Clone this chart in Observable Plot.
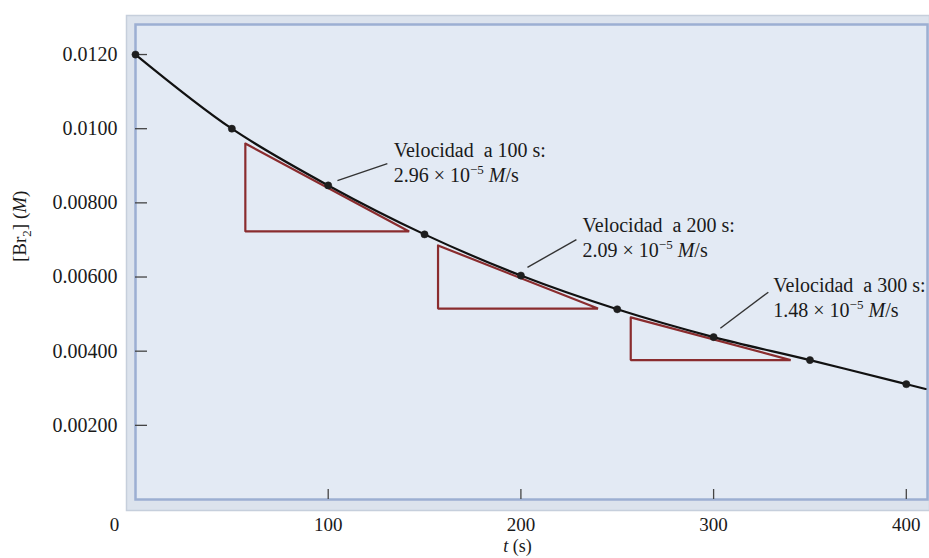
<!DOCTYPE html>
<html>
<head>
<meta charset="utf-8">
<script src="https://cdn.jsdelivr.net/npm/d3@7"></script>
<script src="https://cdn.jsdelivr.net/npm/@observablehq/plot@0.6"></script>
<style>
  html, body { margin: 0; padding: 0; background: #ffffff; }
  #chart { width: 929px; height: 558px; }
</style>
</head>
<body>
<div id="chart"></div>
<script>
// ---- data ----
const times = [0, 50, 100, 150, 200, 250, 300, 350, 400];
const conc = [0.0120, 0.0100, 0.00847, 0.00715, 0.00604, 0.00513, 0.00438, 0.00376, 0.00311];
const curveTailTime = [410];
const curveTailConc = [0.00298];

const xTickValues = [100, 200, 300, 400];
const xTickLabels = ["100", "200", "300", "400"];
const xZeroLabel = ["0"];
const yTickValues = [0.002, 0.004, 0.006, 0.008, 0.010, 0.012];
const yTickLabels = ["0.00200", "0.00400", "0.00600", "0.00800", "0.0100", "0.0120"];

const xTitle = "*t* (s)";
const yTitle = "[Br_2_] (*M*)";

// tangent triangles (rate at 100, 200, 300 s)
const rateTimes = [100, 200, 300];
const triLeft = [57, 157, 257];
const triRight = [142, 240, 340];
const triTop = [0.00960, 0.00685, 0.00491];
const triBottom = [0.00723, 0.00515, 0.00376];

// annotation labels and leader lines
const rateTexts = [
  "Velocidad\u00a0 a 100 s:\n2.96 × 10^−5^ *M*/s",
  "Velocidad\u00a0 a 200 s:\n2.09 × 10^−5^ *M*/s",
  "Velocidad\u00a0 a 300 s:\n1.48 × 10^−5^ *M*/s"
];
const labelT = [134, 232, 331];
const labelC = [0.00912, 0.00709, 0.00548];
const leaderT1 = [104.8, 203.4, 303.5];
const leaderC1 = [0.00860, 0.00626, 0.00462];
const leaderT2 = [130.7, 228.8, 328.4];
const leaderC2 = [0.00906, 0.00701, 0.00559];

// ---- tables built from the arrays ----
const points = times.map((t, i) => ({t, c: conc[i]}));
const curvePts = points.concat(curveTailTime.map((t, i) => ({t, c: curveTailConc[i]})));
const triVerts = [];
rateTimes.forEach((r, i) => {
  triVerts.push({id: r, t: triLeft[i], c: triTop[i]});
  triVerts.push({id: r, t: triLeft[i], c: triBottom[i]});
  triVerts.push({id: r, t: triRight[i], c: triBottom[i]});
  triVerts.push({id: r, t: triLeft[i], c: triTop[i]});
});
const labels = rateTexts.map((s, i) => ({s, t: labelT[i], c: labelC[i]}));
const leaders = rateTimes.map((r, i) => ({t1: leaderT1[i], c1: leaderC1[i], t2: leaderT2[i], c2: leaderC2[i]}));

const FONT = "Liberation Serif, Times New Roman, serif";
const FS = 20;

const plot = Plot.plot({
  width: 929,
  height: 558,
  marginLeft: 135,
  marginRight: 2,
  marginTop: 24,
  marginBottom: 59,
  style: {fontFamily: FONT, fontSize: FS + "px", color: "#1a1a1a", background: "transparent", overflow: "visible"},
  x: {domain: [0, 411]},
  y: {domain: [0, 0.01281]},
  marks: [
    Plot.frame({fill: "#dce3ed", stroke: "#c6cfdc", strokeWidth: 1.5, insetLeft: -9, insetTop: -9, insetRight: -2, insetBottom: -11}),
    Plot.frame({fill: "#e3eaf4", stroke: "#9cafd2", strokeWidth: 2.5}),
    Plot.axisY({ticks: yTickValues, tickFormat: d => yTickLabels[yTickValues.indexOf(d)], tickSize: -12, tickPadding: 30, stroke: "#444", strokeWidth: 1.3, fontSize: FS, fontFamily: FONT, label: null}),
    Plot.axisX({ticks: xTickValues, tickFormat: d => xTickLabels[xTickValues.indexOf(d)], tickSize: -10, tickPadding: 28, stroke: "#444", strokeWidth: 1.3, fontSize: FS - 1, fontFamily: FONT, label: null}),
    Plot.text(xZeroLabel, {x: d => +d, text: d => d, frameAnchor: "bottom", lineAnchor: "top", dy: 18, dx: -21, fontSize: FS - 1, fontFamily: FONT, fill: "#1a1a1a"}),
    Plot.text([xTitle], {frameAnchor: "bottom", lineAnchor: "middle", dy: 47, dx: -14, text: d => d, fontSize: FS - 2, fontFamily: FONT, fill: "#1a1a1a"}),
    Plot.text([yTitle], {frameAnchor: "left", rotate: -90, dx: -116, lineAnchor: "middle", text: d => d, fontSize: FS - 1, fontFamily: FONT, fill: "#1a1a1a"}),
    Plot.line(triVerts, {x: "t", y: "c", z: "id", stroke: "#8a2c2e", strokeWidth: 2.2, strokeLinejoin: "miter"}),
    Plot.line(curvePts, {x: "t", y: "c", curve: "catmull-rom", stroke: "#111", strokeWidth: 2.2}),
    Plot.dot(points, {x: "t", y: "c", r: 3.6, fill: "#1e1e1e", stroke: "#1e1e1e", strokeWidth: 0.5}),
    Plot.link(leaders, {x1: "t1", y1: "c1", x2: "t2", y2: "c2", stroke: "#333", strokeWidth: 1.4}),
    Plot.text(labels, {x: "t", y: "c", text: "s", textAnchor: "start", lineAnchor: "middle", lineHeight: 1.25, fontSize: FS, fontFamily: FONT, fill: "#1a1a1a"})
  ]
});

// rich text: *italic*, ^superscript^, _subscript_
function richify(svg) {
  const NS = "http://www.w3.org/2000/svg";
  svg.querySelectorAll("text, tspan").forEach(el => {
    if (el.children.length) return;
    const s = el.textContent;
    if (!/[\^*_]/.test(s)) return;
    el.textContent = "";
    const parts = s.split(/(\^[^\^]*\^|\*[^*]*\*|_[^_]*_)/g);
    let pending = 0;
    for (const p of parts) {
      if (!p) continue;
      const t = document.createElementNS(NS, "tspan");
      let shift = 0;
      if (p[0] === "^") {
        t.textContent = p.slice(1, -1);
        t.setAttribute("font-size", "13px");
        shift = -8;
      } else if (p[0] === "_") {
        t.textContent = p.slice(1, -1);
        t.setAttribute("font-size", "13px");
        shift = 5;
      } else if (p[0] === "*") {
        t.textContent = p.slice(1, -1);
        t.setAttribute("font-style", "italic");
      } else {
        t.textContent = p;
      }
      const dy = shift - pending;
      if (dy !== 0) t.setAttribute("dy", dy + "px");
      pending = shift;
      el.appendChild(t);
    }
  });
}
richify(plot);
document.getElementById("chart").appendChild(plot);
</script>
</body>
</html>
